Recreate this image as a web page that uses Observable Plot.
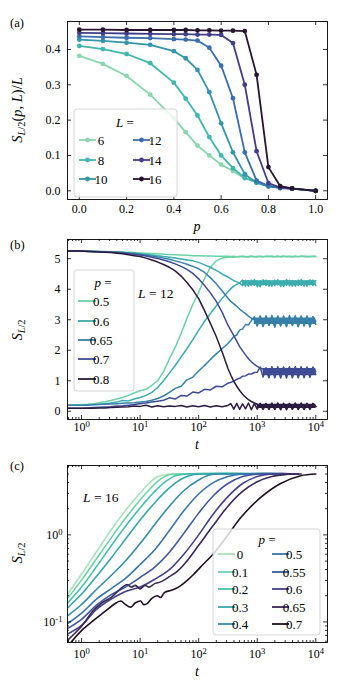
<!DOCTYPE html>
<html><head><meta charset="utf-8">
<script src="https://cdn.jsdelivr.net/npm/d3@7"></script>
<script src="https://cdn.jsdelivr.net/npm/@observablehq/plot@0.6"></script>
<style>
body{margin:0;background:#fff;}
#fig{position:relative;width:342px;height:681px;}
#fig svg{position:absolute;left:0;}
</style></head><body><div id="fig"></div>
<script>
// ---------------- Panel (a) data ----------------
const pA = [0,0.1,0.2,0.3,0.4,0.45,0.5,0.55,0.6,0.65,0.7,0.75,0.8,0.85,0.9,1.0];
const Ls = [6,8,10,12,14,16];
const sL6  = [0.382,0.359,0.325,0.272,0.205,0.166,0.128,0.100,0.074,0.056,0.035,0.024,0.015,0.010,0.006,0.0];
const sL8  = [0.410,0.401,0.387,0.361,0.306,0.261,0.213,0.152,0.100,0.064,0.037,0.024,0.014,0.009,0.006,0.0];
const sL10 = [0.428,0.424,0.419,0.413,0.395,0.375,0.342,0.279,0.191,0.109,0.047,0.023,0.012,0.008,0.006,0.0];
const sL12 = [0.437,0.435,0.433,0.432,0.429,0.428,0.425,0.405,0.354,0.262,0.109,0.029,0.014,0.008,0.006,0.0];
const sL14 = [0.447,0.446,0.445,0.444,0.443,0.443,0.442,0.442,0.441,0.418,0.300,0.112,0.022,0.009,0.006,0.0];
const sL16 = [0.456,0.456,0.455,0.455,0.455,0.455,0.454,0.454,0.453,0.453,0.452,0.328,0.067,0.013,0.007,0.0];
const colA = ["#8ad6ad","#3fb7ad","#3495ab","#3b6eaa","#433e88","#26152f"];
const xTicksA = [0,0.2,0.4,0.6,0.8,1.0];
const yTicksA = [0,0.1,0.2,0.3,0.4];

// ---------------- Panel (b) data (L = 12) ----------------
const logtB = [-0.3,-0.2,-0.1,0,0.1,0.2,0.3,0.4,0.5,0.6,0.7,0.8,0.9,1.0,1.1,1.2,1.3,1.4,1.5,1.6,1.7,1.8,1.9,2.0,2.1,2.2,2.3,2.4,2.5,
  2.55,2.6,2.65,2.7,2.75,2.8,2.85,2.9,2.95,3.0,3.05,3.1,3.15,3.2,3.25,3.3,3.35,3.4,3.45,3.5,3.55,3.6,3.65,3.7,3.75,3.8,3.85,3.9,3.95,4.0];
const pB = ["0.5","0.6","0.65","0.7","0.8"];
const colB = ["#6bd2a6","#3badac","#3680a9","#3f4c95","#2b1b3e"];
// growing (low initial entanglement)
const g50 = [0.2,0.2,0.21,0.22,0.23,0.25,0.28,0.31,0.35,0.4,0.45,0.52,0.6,0.67,0.72,0.85,1.0,1.3,1.72,2.1,2.55,3.05,3.5,3.9,4.35,4.72,4.93,5.02,5.05,
  5.06,5.05,5.07,5.06,5.08,5.06,5.07,5.08,5.06,5.08,5.07,5.06,5.08,5.07,5.09,5.06,5.08,5.07,5.09,5.06,5.08,5.07,5.08,5.06,5.09,5.07,5.08,5.06,5.08,5.07];
const g60 = [0.2,0.2,0.2,0.2,0.21,0.22,0.23,0.25,0.27,0.3,0.35,0.34,0.4,0.45,0.52,0.62,0.78,1.0,1.25,1.5,1.78,2.05,2.35,2.65,2.95,3.2,3.45,3.7,3.92,
  4.02,4.1,4.16,4.2,4.3,4.1,4.28,4.12,4.32,4.08,4.27,4.14,4.3,4.1,4.26,4.12,4.31,4.09,4.28,4.13,4.3,4.1,4.27,4.12,4.32,4.1,4.28,4.14,4.3,4.12];
const g65 = [0.2,0.2,0.2,0.2,0.2,0.21,0.22,0.23,0.24,0.25,0.26,0.27,0.28,0.3,0.32,0.36,0.42,0.5,0.62,0.75,0.82,1.03,1.12,1.32,1.5,1.7,1.88,2.05,2.22,
  2.33,2.45,2.5,2.66,2.7,2.84,2.83,2.97,3.1,2.8,3.12,2.78,3.08,2.82,3.14,2.76,3.1,2.8,3.12,2.79,3.08,2.83,3.13,2.77,3.1,2.8,3.12,2.78,3.09,2.95];
const g70 = [0.1,0.1,0.1,0.1,0.11,0.12,0.13,0.14,0.15,0.17,0.18,0.2,0.22,0.25,0.27,0.3,0.33,0.36,0.44,0.4,0.52,0.5,0.63,0.6,0.72,0.7,0.82,0.8,0.92,
  0.95,0.98,1.05,1.08,1.15,1.16,1.22,1.22,1.27,1.28,1.45,1.12,1.43,1.1,1.46,1.14,1.42,1.09,1.45,1.13,1.44,1.1,1.46,1.12,1.43,1.1,1.45,1.13,1.42,1.2];
const g80 = [0.1,0.1,0.1,0.1,0.1,0.1,0.11,0.11,0.12,0.13,0.14,0.15,0.17,0.16,0.2,0.14,0.18,0.15,0.17,0.16,0.19,0.14,0.18,0.15,0.19,0.14,0.18,0.15,0.19,
  0.25,0.07,0.26,0.06,0.24,0.08,0.27,0.05,0.25,0.07,0.26,0.06,0.24,0.08,0.27,0.06,0.25,0.07,0.26,0.05,0.24,0.08,0.27,0.06,0.25,0.07,0.26,0.06,0.24,0.15];
// decaying (high initial entanglement)
const d50 = [5.25,5.25,5.25,5.25,5.25,5.25,5.24,5.24,5.23,5.23,5.22,5.21,5.2,5.19,5.18,5.17,5.16,5.15,5.14,5.13,5.12,5.11,5.1,5.1,5.09,5.09,5.08,5.08,5.08,
  5.07,5.08,5.06,5.08,5.07,5.07,5.06,5.08,5.07,5.06,5.08,5.07,5.07,5.08,5.06,5.07,5.08,5.06,5.07,5.08,5.07,5.06,5.08,5.07,5.07,5.08,5.06,5.08,5.07,5.08];
const d60 = [5.25,5.25,5.25,5.25,5.25,5.24,5.24,5.23,5.22,5.21,5.2,5.19,5.18,5.16,5.14,5.12,5.1,5.07,5.05,5.02,4.99,4.96,4.93,4.88,4.8,4.72,4.62,4.5,4.4,
  4.34,4.28,4.24,4.2,4.12,4.29,4.1,4.3,4.13,4.27,4.08,4.31,4.12,4.28,4.1,4.3,4.14,4.26,4.09,4.32,4.12,4.28,4.1,4.3,4.13,4.27,4.1,4.31,4.12,4.28];
const d65 = [5.25,5.25,5.25,5.25,5.25,5.24,5.23,5.23,5.22,5.21,5.2,5.18,5.16,5.14,5.12,5.09,5.06,5.02,4.98,4.93,4.88,4.82,4.75,4.67,4.55,4.38,4.18,3.95,3.7,
  3.6,3.52,3.44,3.35,3.27,3.2,3.12,3.05,3.0,2.8,3.11,2.79,3.13,2.82,3.09,2.77,3.12,2.8,3.1,2.78,3.14,2.81,3.08,2.79,3.12,2.8,3.11,2.77,3.1,2.85];
const d70 = [5.25,5.25,5.25,5.25,5.24,5.24,5.23,5.22,5.21,5.2,5.19,5.17,5.15,5.12,5.09,5.05,5.01,4.96,4.9,4.83,4.75,4.65,4.52,4.34,4.12,3.88,3.6,3.25,2.82,
  2.65,2.48,2.3,2.12,1.98,1.85,1.72,1.62,1.54,1.47,1.42,1.38,1.35,1.12,1.44,1.1,1.46,1.13,1.43,1.09,1.45,1.12,1.44,1.1,1.46,1.14,1.42,1.11,1.45,1.3];
const d80 = [5.25,5.25,5.25,5.25,5.24,5.23,5.22,5.21,5.2,5.18,5.16,5.13,5.1,5.07,5.02,4.96,4.89,4.81,4.72,4.6,4.43,4.22,3.98,3.69,3.3,2.88,2.45,1.95,1.4,
  1.18,0.98,0.82,0.68,0.56,0.46,0.38,0.32,0.27,0.23,0.2,0.08,0.26,0.06,0.25,0.07,0.27,0.05,0.24,0.08,0.26,0.06,0.25,0.07,0.27,0.06,0.24,0.08,0.26,0.16];
// dense fluctuation band of the late-time plateau (start log10 t, low, high) per p
const bandStart = [null, 2.75, 2.95, 3.1, 3.0];
const bandLo = [null, 4.12, 2.84, 1.16, 0.09];
const bandHi = [null, 4.28, 3.06, 1.4, 0.23];
const yTicksB = [0,1,2,3,4,5];
const tMajor = [1,10,100,1000,10000];

// ---------------- Panel (c) data (L = 16), [log10 t, log10 S] ----------------
const pC = ["0","0.1","0.2","0.3","0.4","0.5","0.55","0.6","0.65","0.7"];
const colC = ["#a9e2bc","#70d3a7","#48c0ab","#37a6ab","#358ca8","#3b74a9","#3f589f","#443f88","#3a2858","#1e1020"];
const c00 = [[-0.3,-0.73],[-0.25,-0.69],[0,-0.45],[0.25,-0.2],[0.5,0.05],[0.75,0.28],[1.0,0.48],[1.15,0.59],[1.3,0.67],[1.45,0.695],[1.6,0.7],[3.7,0.7]];
const c01 = [[-0.3,-0.78],[0,-0.52],[0.25,-0.28],[0.5,-0.04],[0.75,0.19],[1.0,0.4],[1.2,0.55],[1.35,0.64],[1.5,0.69],[1.7,0.7],[3.7,0.7]];
const c02 = [[-0.3,-0.83],[0,-0.6],[0.25,-0.37],[0.5,-0.13],[0.75,0.1],[1.0,0.31],[1.25,0.5],[1.45,0.62],[1.6,0.68],[1.8,0.7],[3.7,0.7]];
const c03 = [[-0.3,-0.88],[0,-0.68],[0.25,-0.48],[0.5,-0.27],[0.75,-0.05],[1.0,0.17],[1.25,0.37],[1.5,0.54],[1.7,0.64],[1.9,0.69],[2.1,0.7],[3.7,0.7]];
const c04 = [[-0.3,-0.96],[0,-0.8],[0.25,-0.63],[0.5,-0.47],[0.75,-0.3],[1.0,-0.1],[1.25,0.12],[1.5,0.33],[1.75,0.51],[2.0,0.63],[2.2,0.69],[2.4,0.7],[3.7,0.7]];
const c05 = [[-0.3,-1.05],[0,-0.9],[0.25,-0.74],[0.5,-0.62],[0.75,-0.5],[1.0,-0.34],[1.25,-0.17],[1.5,0.05],[1.75,0.28],[2.0,0.47],[2.25,0.6],[2.5,0.67],[2.75,0.7],[3.7,0.7]];
const c055 = [[-0.3,-1.1],[0,-0.97],[0.25,-0.81],[0.5,-0.69],[0.75,-0.6],[1.0,-0.49],[1.25,-0.37],[1.5,-0.2],[1.75,0.02],[2.0,0.25],[2.25,0.45],[2.5,0.59],[2.75,0.67],[3.0,0.7],[3.7,0.7]];
const c06 = [[-0.3,-1.16],[0,-1.04],[0.25,-0.86],[0.5,-0.74],[0.75,-0.65],[1.0,-0.6],[1.25,-0.51],[1.5,-0.4],[1.75,-0.22],[2.0,0.0],[2.25,0.24],[2.5,0.44],[2.75,0.59],[3.0,0.67],[3.25,0.7],[3.7,0.7]];
const c065 = [[-0.3,-1.25],[0,-1.05],[0.2,-0.87],[0.35,-0.78],[0.5,-0.72],[0.6,-0.66],[0.7,-0.6],[0.78,-0.57],[0.85,-0.6],[0.92,-0.58],[1.0,-0.62],[1.08,-0.58],[1.15,-0.6],[1.25,-0.56],[1.35,-0.54],[1.5,-0.48],[1.65,-0.41],[1.8,-0.3],[2.0,-0.12],[2.25,0.11],[2.5,0.33],[2.75,0.5],[3.0,0.61],[3.25,0.67],[3.5,0.695],[3.75,0.7]];
const c07 = [[-0.2,-1.25],[0,-1.1],[0.21,-0.98],[0.4,-0.88],[0.55,-0.8],[0.67,-0.76],[0.75,-0.8],[0.84,-0.83],[0.92,-0.78],[1.01,-0.76],[1.06,-0.8],[1.12,-0.79],[1.2,-0.73],[1.29,-0.7],[1.35,-0.72],[1.42,-0.66],[1.52,-0.64],[1.6,-0.62],[1.7,-0.58],[1.81,-0.52],[1.92,-0.45],[2.03,-0.37],[2.26,-0.21],[2.49,-0.01],[2.72,0.2],[3.06,0.43],[3.4,0.59],[3.74,0.68],[4.0,0.7]];
const yMajorC = [0.1,1];

// ---------------- helpers ----------------
const FONT = "Liberation Serif";
const fig = document.getElementById("fig");
const W = 342;
const supDigits = {"-":"⁻","0":"⁰","1":"¹","2":"²","3":"³","4":"⁴"};
function pow10Label(d){ const k = Math.round(Math.log10(d)); return "10" + String(k).split("").map(c=>supDigits[c]).join(""); }

function inTicks(vals, axis, len, fw, fh){
  const o = {stroke:"black", strokeWidth:0.8};
  if (axis === "x") return [
    Plot.tickX(vals, {x:d=>d, insetTop: fh-len, ...o}),
    Plot.tickX(vals, {x:d=>d, insetBottom: fh-len, ...o})];
  return [
    Plot.tickY(vals, {y:d=>d, insetRight: fw-len, ...o}),
    Plot.tickY(vals, {y:d=>d, insetLeft: fw-len, ...o})];
}
function minorLog(dom, majors){
  return d3.scaleLog().domain(dom).ticks().filter(v => !majors.some(m => Math.abs(m-v)/m < 1e-9));
}
function place(svg, top){ svg.style.top = top + "px"; fig.appendChild(svg); return d3.select(svg); }
function mtext(sel, x, y, parts, {size=13, anchor="middle", rotate=false}={}){
  const t = sel.append("text").attr("font-family", FONT).attr("font-size", size)
    .attr("text-anchor", anchor).attr("fill", "black")
    .attr("transform", `translate(${x},${y})` + (rotate ? " rotate(-90)" : ""))
    .attr("dy", "0.35em");
  let shift = 0;
  for (const [s, c] of parts){
    const sp = t.append("tspan").text(s);
    if (c.includes("i")) sp.attr("font-style", "italic");
    const sub = c.startsWith("s");
    const want = sub ? 3 : 0;
    if (want !== shift){ sp.attr("dy", want - shift); shift = want; }
    if (sub) sp.attr("font-size", "0.72em");
  }
  return t;
}
function supTicks(sel){
  sel.selectAll('g[aria-label$="tick label"] text').each(function(){
    const s = this.textContent;
    if (!s.startsWith("10")) return;
    const rest = s.slice(2).split("").map(c => Object.keys(supDigits).find(k => supDigits[k] === c)).join("");
    const t = d3.select(this);
    t.text("10");
    t.append("tspan").attr("dy", "-0.45em").attr("font-size", "0.72em").text(rest);
  });
}
function legendBox(sel, x, y, w, h){
  sel.append("rect").attr("x", x).attr("y", y).attr("width", w).attr("height", h).attr("rx", 3)
    .attr("fill", "white").attr("fill-opacity", 0.8).attr("stroke", "#cccccc").attr("stroke-width", 0.8);
}
function legendItem(sel, x1, x2, y, color, label, dot){
  sel.append("line").attr("x1", x1).attr("x2", x2).attr("y1", y).attr("y2", y)
    .attr("stroke", color).attr("stroke-width", 1.8);
  if (dot) sel.append("circle").attr("cx", (x1+x2)/2).attr("cy", y).attr("r", 2.4).attr("fill", color);
  sel.append("text").attr("x", x2 + 5).attr("y", y).attr("dy", "0.35em")
    .attr("font-family", FONT).attr("font-size", 13).attr("fill", "black").text(label);
}
const baseStyle = {fontFamily: FONT, fontSize: "12px", background: "transparent", overflow: "visible", color: "black"};

// ---------------- Panel (a) ----------------
{
  const mt = 21, mb = 33, ml = 67, mr = 15, H = 232;
  const fw = W - ml - mr, fh = H - mt - mb;
  const seriesA = [sL6, sL8, sL10, sL12, sL14, sL16];
  const marks = [];
  seriesA.forEach((arr, k) => {
    const rows = pA.map((p, i) => ({p, s: arr[i]}));
    marks.push(Plot.line(rows, {x:"p", y:"s", stroke: colA[k], strokeWidth: 1.8}));
    marks.push(Plot.dot(rows, {x:"p", y:"s", fill: colA[k], r: 2.4}));
  });
  const svg = Plot.plot({
    width: W, height: H, marginTop: mt, marginBottom: mb, marginLeft: ml, marginRight: mr,
    style: baseStyle,
    x: {domain: [-0.05, 1.05], ticks: xTicksA, tickFormat: d3.format(".1f"), tickSize: 0, tickPadding: 5, label: null},
    y: {domain: [-0.0246, 0.479], ticks: yTicksA, tickFormat: d3.format(".1f"), tickSize: 0, tickPadding: 7, label: null},
    marks: [...marks, Plot.frame({stroke:"black", strokeWidth: 0.9}),
      ...inTicks(xTicksA, "x", 4, fw, fh), ...inTicks(yTicksA, "y", 4, fw, fh)]
  });
  const s = place(svg, 0);
  mtext(s, 10, 23, [["(a)", "r"]], {size: 12.5, anchor: "start"});
  mtext(s, 197, 226, [["p", "i"]], {size: 14});
  mtext(s, 17, 110, [["S", "i"], ["L", "si"], ["/2", "sr"], ["(", "r"], ["p", "i"], [", ", "r"], ["L", "i"], [")/", "r"], ["L", "i"]], {size: 14.5, rotate: true});
  legendBox(s, 74, 109, 103, 88);
  mtext(s, 125, 122, [["L", "i"], [" =", "r"]], {size: 13});
  const rowsY = [140, 160, 179];
  Ls.forEach((L, k) => {
    const col = k < 3 ? 0 : 1, row = k % 3;
    const x1 = col === 0 ? 79 : 133;
    legendItem(s, x1, x1 + 17, rowsY[row], colA[k], String(L), true);
  });
}

// ---------------- Panel (b) ----------------
{
  const top = 232, H = 222, mt = 7, mb = 35, ml = 67, mr = 15;
  const fw = W - ml - mr, fh = H - mt - mb;
  const dom = [10 ** -0.24, 10 ** 4.2];
  const grow = [g50, g60, g65, g70, g80], decay = [d50, d60, d65, d70, d80];
  const marks = [];
  pB.forEach((p, k) => {
    if (bandStart[k] !== null) {
      const band = [bandStart[k], 4.0].map(lt => ({t: 10 ** lt, lo: bandLo[k], hi: bandHi[k]}));
      marks.push(Plot.areaY(band, {x:"t", y1:"lo", y2:"hi", fill: colB[k], clip: true}));
    }
    for (const arr of [decay[k], grow[k]]) {
      const rows = logtB.map((lt, i) => ({t: 10 ** lt, s: arr[i]}));
      marks.push(Plot.line(rows, {x:"t", y:"s", stroke: colB[k], strokeWidth: 1.5, clip: true}));
    }
  });
  const svg = Plot.plot({
    width: W, height: H, marginTop: mt, marginBottom: mb, marginLeft: ml, marginRight: mr,
    style: baseStyle,
    x: {type: "log", domain: dom, ticks: tMajor, tickFormat: pow10Label, tickSize: 0, tickPadding: 3, label: null},
    y: {domain: [-0.27, 5.63], ticks: yTicksB, tickFormat: d3.format("d"), tickSize: 0, tickPadding: 7, label: null},
    marks: [...marks, Plot.frame({stroke:"black", strokeWidth: 0.9}),
      ...inTicks(tMajor, "x", 4, fw, fh), ...inTicks(minorLog(dom, tMajor), "x", 2, fw, fh),
      ...inTicks(yTicksB, "y", 4, fw, fh)]
  });
  const s = place(svg, top);
  supTicks(s);
  mtext(s, 10, 13, [["(b)", "r"]], {size: 12.5, anchor: "start"});
  mtext(s, 197, 212, [["t", "i"]], {size: 14});
  mtext(s, 17, 98, [["S", "i"], ["L", "si"], ["/2", "sr"]], {size: 14.5, rotate: true});
  mtext(s, 138, 61, [["L", "i"], [" = 12", "r"]], {size: 13.5, anchor: "start"});
  legendBox(s, 74, 38, 60, 121);
  mtext(s, 103, 50, [["p", "i"], [" =", "r"]], {size: 13});
  const rowsY = [69, 89, 108, 127, 147];
  pB.forEach((p, k) => legendItem(s, 78, 96, rowsY[k], colB[k], p, false));
}

// ---------------- Panel (c) ----------------
{
  const top = 454, H = 227, mt = 11, mb = 39, ml = 67, mr = 15;
  const fw = W - ml - mr, fh = H - mt - mb;
  const dom = [10 ** -0.24, 10 ** 4.2];
  const ydom = [0.058, 6.27];
  const seriesC = [c00, c01, c02, c03, c04, c05, c055, c06, c065, c07];
  const marks = seriesC.map((arr, k) => Plot.line(arr.map(([lt, ls]) => ({t: 10 ** lt, s: 10 ** ls})),
    {x:"t", y:"s", stroke: colC[k], strokeWidth: 1.6, curve: "catmull-rom", clip: true}));
  const svg = Plot.plot({
    width: W, height: H, marginTop: mt, marginBottom: mb, marginLeft: ml, marginRight: mr,
    style: baseStyle,
    x: {type: "log", domain: dom, ticks: tMajor, tickFormat: pow10Label, tickSize: 0, tickPadding: 7, label: null},
    y: {type: "log", domain: ydom, ticks: yMajorC, tickFormat: pow10Label, tickSize: 0, tickPadding: 5, label: null},
    marks: [...marks, Plot.frame({stroke:"black", strokeWidth: 0.9}),
      ...inTicks(tMajor, "x", 4, fw, fh), ...inTicks(minorLog(dom, tMajor), "x", 2, fw, fh),
      ...inTicks(yMajorC, "y", 4, fw, fh), ...inTicks(minorLog(ydom, yMajorC), "y", 2, fw, fh)]
  });
  const s = place(svg, top);
  supTicks(s);
  mtext(s, 10, 12, [["(c)", "r"]], {size: 12.5, anchor: "start"});
  mtext(s, 197, 217, [["t", "i"]], {size: 14});
  mtext(s, 17, 99, [["S", "i"], ["L", "si"], ["/2", "sr"]], {size: 14.5, rotate: true});
  mtext(s, 83, 43, [["L", "i"], [" = 16", "r"]], {size: 13.5, anchor: "start"});
  legendBox(s, 213, 75, 107, 106);
  mtext(s, 267, 85, [["p", "i"], [" =", "r"]], {size: 13});
  const rowsY = [100, 118, 135, 153, 170];
  pC.forEach((p, k) => {
    const col = k < 5 ? 0 : 1, row = k % 5;
    const x1 = col === 0 ? 218 : 272;
    legendItem(s, x1, x1 + 17, rowsY[row], colC[k], p, false);
  });
}
</script></body></html>
